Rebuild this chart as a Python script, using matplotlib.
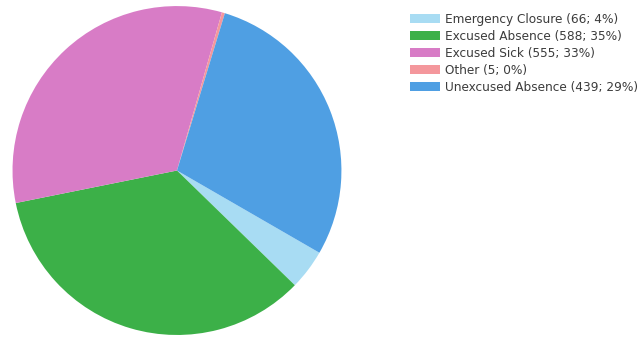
import matplotlib.pyplot as plt

categories = ["Emergency Closure", "Excused Absence", "Excused Sick", "Other", "Unexcused Absence"]
counts = [66, 588, 555, 5, 439]
percent_labels = ["4%", "35%", "33%", "0%", "29%"]
# wedge sizes as drawn in the picture (percent)
wedge_sizes = [4, 35, 33, 0.3, 29]
colors = ["#a8dcf3", "#3cb048", "#d87cc6", "#f4979c", "#4f9fe3"]

labels = [f"{c} ({n}; {p})" for c, n, p in zip(categories, counts, percent_labels)]

fig = plt.figure(figsize=(6.44, 3.37), dpi=100)
ax = fig.add_axes([0.0186, 0.006, 0.5124, 0.976])
wedges, _ = ax.pie(wedge_sizes, colors=colors, startangle=-30, counterclock=False,
                   wedgeprops=dict(linewidth=0))
ax.set_xlim(-1, 1)
ax.set_ylim(-1, 1)
ax.set_aspect("equal")

fig.legend(wedges, labels, loc="upper left", bbox_to_anchor=(0.6366, 0.962),
           frameon=False, fontsize=8.7, handlelength=2.5, handleheight=0.66,
           handletextpad=0.42, labelspacing=0.33, borderaxespad=0, borderpad=0,
           labelcolor="#3c3c3c")

fig.savefig("out.png", dpi=100)
